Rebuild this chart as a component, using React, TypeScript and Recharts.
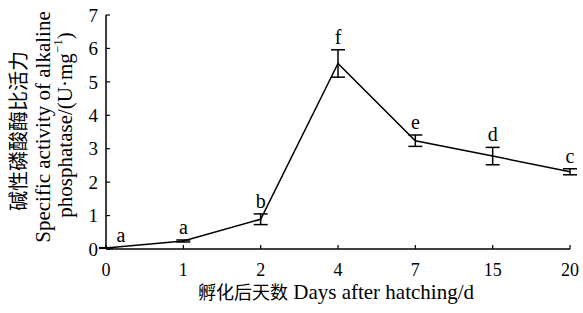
import { LineChart, Line, XAxis, YAxis, ErrorBar, LabelList } from "recharts";

const days = ["0", "1", "2", "4", "7", "15", "20"];
const activity = [0.03, 0.24, 0.89, 5.55, 3.24, 2.78, 2.31];
const sd = [0.01, 0.03, 0.16, 0.41, 0.17, 0.26, 0.09];
const letters = ["a", "a", "b", "f", "e", "d", "c"];
const yTicks = [0, 1, 2, 3, 4, 5, 6, 7];

const data = days.map((d, i) => ({
  day: d,
  value: activity[i],
  err: sd[i],
  top: activity[i] + sd[i],
  letter: letters[i],
}));

const FONT = "Liberation Serif, DejaVu Serif, serif, Noto Sans CJK SC";
const CJK = "Noto Sans CJK SC, sans-serif";

function LetterLabel(props: any) {
  const { x, y, value, index } = props;
  const dx = index === 0 ? 15 : 0;
  return (
    <text x={x + dx} y={y - 6} textAnchor="middle" fontSize={20} fontFamily={FONT} fill="#000">
      {value}
    </text>
  );
}

function YTitle() {
  return (
    <g fill="#000" textAnchor="middle">
      <text x={17} y={131} transform="rotate(-90 17 131)" dominantBaseline="central" fontSize={20} fontFamily={CJK}>
        碱性磷酸酶比活力
      </text>
      <text x={43} y={127} transform="rotate(-90 43 127)" dominantBaseline="central" fontSize={21} fontFamily={FONT}>
        Specific activity of alkaline
      </text>
      <text x={65} y={125} transform="rotate(-90 65 125)" dominantBaseline="central" fontSize={21} fontFamily={FONT}>
        phosphatase/(U·mg<tspan baselineShift="super" fontSize={13}>−1</tspan>)
      </text>
    </g>
  );
}

function XTitle() {
  return (
    <text x={336} y={299} textAnchor="middle" fill="#000">
      <tspan fontFamily={CJK} fontSize={18}>孵化后天数</tspan>
      <tspan fontFamily={FONT} fontSize={21}> Days after hatching/d</tspan>
    </text>
  );
}

export default function App() {
  return (
    <div style={{ position: "absolute", left: 0, top: 0, width: 583, height: 313, background: "#fff" }}>
      <LineChart width={583} height={313} data={data} margin={{ top: 15, right: 13, bottom: 34, left: 0 }}>
        <XAxis
          dataKey="day"
          height={30}
          stroke="#000"
          strokeWidth={1.5}
          tickSize={-4}
          tickMargin={18}
          tick={{ fill: "#000", fontSize: 18, fontFamily: FONT }}
          tickLine={{ stroke: "#000", strokeWidth: 1.2 }}
        />
        <YAxis
          width={106}
          domain={[0, 7]}
          ticks={yTicks}
          stroke="#000"
          strokeWidth={1.5}
          tickSize={-4}
          tickMargin={12}
          interval={0}
          tick={{ fill: "#000", fontSize: 19, fontFamily: FONT }}
          tickLine={{ stroke: "#000", strokeWidth: 1.2 }}
        />
        <Line
          type="linear"
          dataKey="value"
          stroke="#000"
          strokeWidth={1.5}
          dot={false}
          isAnimationActive={false}
        >
          <ErrorBar dataKey="err" width={7} stroke="#000" strokeWidth={1.5} />
        </Line>
        <Line
          type="linear"
          dataKey="top"
          stroke="none"
          dot={false}
          activeDot={false}
          isAnimationActive={false}
        >
          <LabelList dataKey="letter" content={<LetterLabel />} />
        </Line>
        <YTitle />
        <XTitle />
      </LineChart>
    </div>
  );
}
